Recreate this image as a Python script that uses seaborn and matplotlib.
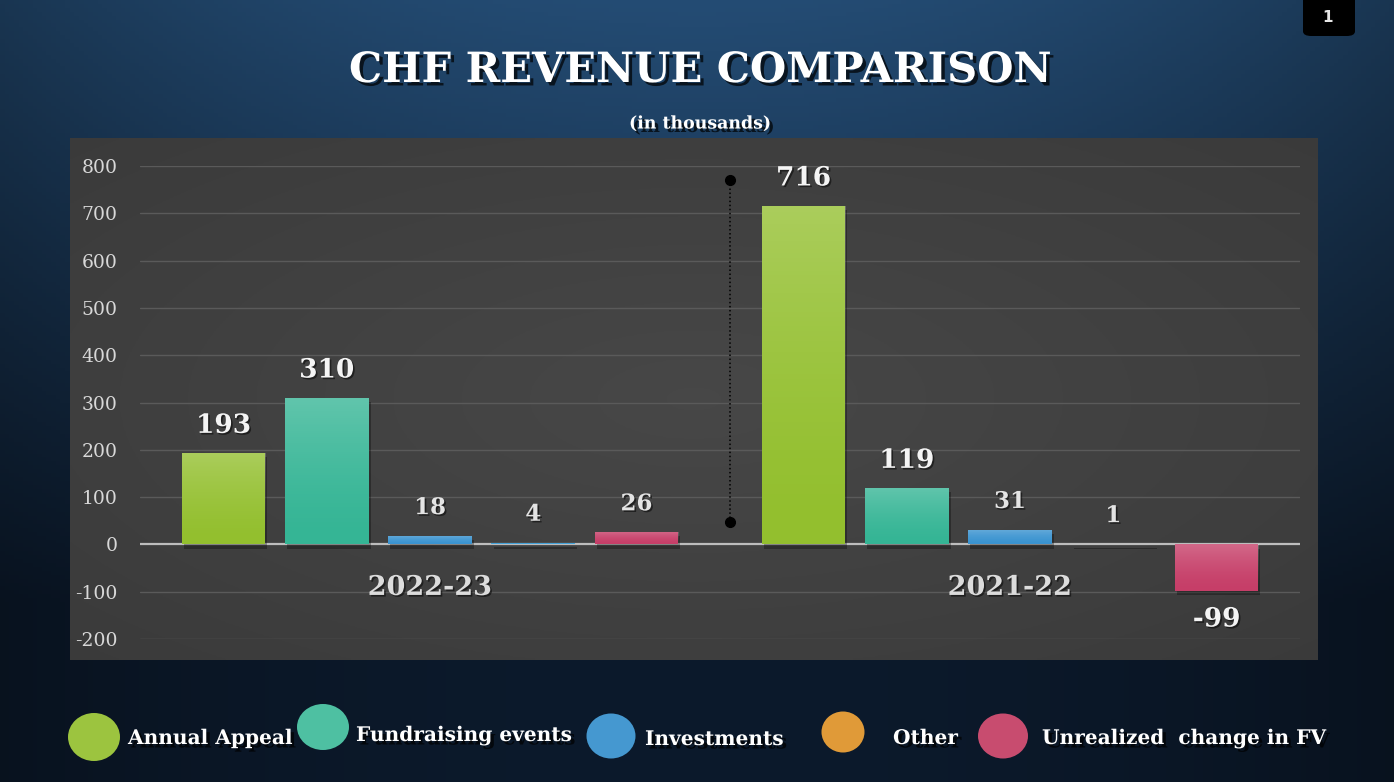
import matplotlib.pyplot as plt
import matplotlib.patheffects as pe
from matplotlib.patches import Ellipse, FancyBboxPatch
import seaborn as sns
import numpy as np
import pandas as pd

# Daten (in Tausend CHF)
years = ["2022-23", "2021-22"]
categories = ["Annual Appeal", "Fundraising events", "Investments", "Other",
              "Unrealized  change in FV"]
values_2022_23 = [193, 310, 18, 4, 26]
values_2021_22 = [716, 119, 31, 1, -99]
yticks = [-200, -100, 0, 100, 200, 300, 400, 500, 600, 700, 800]

# Farben: die "Other"-Balken sind im Original blau, die Legende orange
bar_colors = ["#93bf2e", "#35b595", "#3a93d0", "#3d9fd8", "#c63e68"]
legend_colors = ["#9cc43f", "#4ec0a2", "#4598d0", "#e09a38", "#c84c6f"]

W, H = 1394, 782

rows = []
for year, vals in zip(years, [values_2022_23, values_2021_22]):
    for cat, v in zip(categories, vals):
        rows.append({"year": year, "category": cat, "value": v})
df = pd.DataFrame(rows)

sns.set_theme(style="white")
plt.rcParams["font.family"] = ["DejaVu Serif", "DejaVu Sans"]
plt.rcParams["axes.unicode_minus"] = False

fig = plt.figure(figsize=(W / 100, H / 100), dpi=100)


def fig_rect(x0, y0, x1, y1):
    # Pixel-Rechteck (oben links Ursprung) -> Figure-Koordinaten
    return [x0 / W, 1 - y1 / H, (x1 - x0) / W, (y1 - y0) / H]


# Hintergrund: dunkelblauer Verlauf
ax_bg = fig.add_axes([0, 0, 1, 1], zorder=0)
yy, xx = np.mgrid[0:1:200j, 0:1:300j]
top = np.array([36, 76, 116]) / 255
bottom = np.array([12, 26, 44]) / 255
t = np.clip(yy * 1.3, 0, 1)[..., None]
bg = top * (1 - t) + bottom * t
vign = 1 - 0.3 * ((xx - 0.5) * 2) ** 2
bg = bg * vign[..., None]
ax_bg.imshow(bg, aspect="auto", extent=(0, 1, 0, 1), origin="upper")
ax_bg.axis("off")

# Grauer Diagrammbereich
ax_panel = fig.add_axes(fig_rect(70, 138, 1318, 660), zorder=1)
py, px = np.mgrid[-1:1:200j, -1:1:400j]
r = np.sqrt(px ** 2 + py ** 2)
shade = 0.28 - 0.05 * np.clip(r, 0, 1.4) / 1.4
ax_panel.imshow(np.dstack([shade] * 3), aspect="auto", extent=(0, 1, 0, 1))
ax_panel.axis("off")

# Hauptachse
ax = fig.add_axes(fig_rect(140, 166, 1300, 639), zorder=2)
ax.patch.set_alpha(0)

sns.barplot(
    data=df, x="year", y="value", hue="category",
    order=years, hue_order=categories,
    palette=dict(zip(categories, bar_colors)),
    width=0.89, gap=0.19, saturation=1, errorbar=None, legend=False,
    edgecolor="none", ax=ax, zorder=3,
)

ax.set_yticks(yticks)
ax.set_yticklabels([str(v) for v in yticks])
ax.tick_params(axis="y", length=0, pad=16, labelsize=13.5, labelcolor="#d8d8d8")
ax.set_xticks([])
ax.set_xlabel("")
ax.set_ylabel("")
for s in ax.spines.values():
    s.set_visible(False)
for v in yticks:
    if v == 0:
        ax.axhline(0, color="#bdbdbd", lw=1.6, zorder=2.5)
    else:
        ax.axhline(v, color="#5a5a5a", lw=1.0, zorder=1)

# Schatten und Verlauf auf den Balken
grad = np.linspace(0, 1, 64)[:, None]
for patch in ax.patches:
    patch.set_path_effects([
        pe.SimplePatchShadow(offset=(1.5, -3), shadow_rgbFace="black", alpha=0.3),
        pe.Normal(),
    ])
    x0, y0 = patch.get_x(), patch.get_y()
    w, h = patch.get_width(), patch.get_height()
    if h == 0:
        continue
    ylo, yhi = min(y0, y0 + h), max(y0, y0 + h)
    overlay = np.zeros((64, 1, 4))
    overlay[..., :3] = 1.0
    overlay[..., 3] = 0.22 * (1 - grad) ** 1.5
    im = ax.imshow(overlay, extent=(x0, x0 + w, ylo, yhi), aspect="auto",
                   origin="upper", zorder=4, interpolation="bilinear")
    im.set_clip_path(patch)

ax.set_xlim(-0.5, 1.5)
ax.set_ylim(-200, 800)

# Wertebeschriftungen
label_fx = [pe.withSimplePatchShadow(offset=(1.2, -1.2), shadow_rgbFace="black", alpha=0.5)]
for patch in ax.patches:
    h = patch.get_height()
    cx = patch.get_x() + patch.get_width() / 2
    big = abs(h) >= 99
    off = 20 if h >= 0 else -20
    ax.annotate(f"{h:g}", (cx, h), xytext=(0, off), textcoords="offset points",
                ha="center", va="center", fontsize=19 if big else 16.5,
                fontweight="bold", color="#f4f4f4" if big else "#e4e4e4",
                zorder=6, path_effects=label_fx)

# Jahresbeschriftungen
for i, year in enumerate(years):
    ax.text(i, -91, year, ha="center", va="center", fontsize=19.5,
            fontweight="bold", color="#dcdcdc", zorder=6, path_effects=label_fx)

# Gepunktete Trennlinie zwischen den Jahren
divider_x = 0.518
ax.plot([divider_x, divider_x], [47, 770], color="black", lw=1.1, ls=":", zorder=5)
ax.plot([divider_x, divider_x], [47, 770], color="black", lw=0, marker="o",
        markersize=7, zorder=5)

# Titel
title_fx = [pe.withSimplePatchShadow(offset=(2.5, -2.5), shadow_rgbFace="black", alpha=0.7)]
fig.text(700 / W, 1 - 70 / H, "CHF REVENUE COMPARISON", ha="center", va="center",
         fontsize=30, fontweight="bold", color="white", path_effects=title_fx)
fig.text(700 / W, 1 - 124 / H, "(in thousands)", ha="center", va="center",
         fontsize=12.5, fontweight="bold", color="white", path_effects=title_fx)

# Legende (Kreise + Text)
legend_circles = [(94, 737, 52, 48), (323, 727, 52, 46), (611, 736, 49, 45),
                  (843, 732, 43, 41), (1003, 736, 50, 45)]
legend_text = [(128, 738), (356, 735), (645, 739), (893, 738), (1042, 738)]
for cat, col, (cx, cy, ew, eh), (tx, ty) in zip(categories, legend_colors,
                                                 legend_circles, legend_text):
    fig.patches.append(Ellipse((cx / W, 1 - cy / H), ew / W, eh / H,
                               transform=fig.transFigure, facecolor=col,
                               edgecolor="none", zorder=3))
    fig.text(tx / W, 1 - ty / H, cat, ha="left", va="center", fontsize=14.5,
             fontweight="bold", color="white", zorder=4, path_effects=title_fx)

# Seitennummer
fig.patches.append(FancyBboxPatch((1303 / W, 1 - 36 / H), 52 / W, 50 / H,
                                  boxstyle="round,pad=0,rounding_size=0.006",
                                  transform=fig.transFigure, facecolor="black",
                                  edgecolor="none", zorder=3))
fig.text(1328 / W, 1 - 18 / H, "1", ha="center", va="center", fontsize=11,
         fontweight="bold", color="#e8e8e8", family="DejaVu Sans", zorder=4)

fig.savefig("out.png", dpi=100)
